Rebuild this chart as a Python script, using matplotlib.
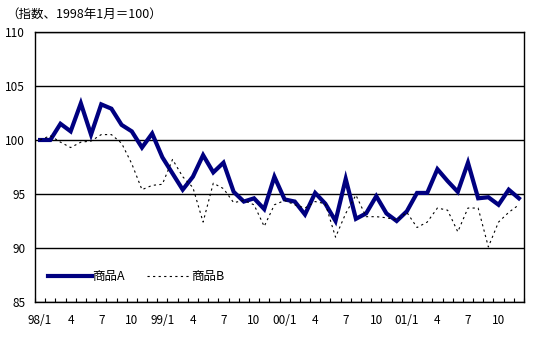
import matplotlib
matplotlib.use("Agg")
import matplotlib.pyplot as plt
from matplotlib.ticker import FixedLocator

plt.rcParams['font.family'] = ['Noto Sans CJK JP', 'DejaVu Sans']

months = [f"{y}/{m}" for y in ["98", "99", "00", "01"] for m in range(1, 13)]
tick_labels = ["98/1", "4", "7", "10", "99/1", "4", "7", "10",
               "00/1", "4", "7", "10", "01/1", "4", "7", "10"]

series_a = [100.0, 100.0, 101.5, 100.8, 103.4, 100.5, 103.3, 102.9, 101.4, 100.8, 99.3, 100.6,
            98.4, 96.9, 95.4, 96.6, 98.6, 97.0, 97.9, 95.2, 94.3, 94.6, 93.6, 96.6,
            94.5, 94.3, 93.1, 95.1, 94.1, 92.5, 96.4, 92.7, 93.2, 94.8, 93.2, 92.5,
            93.4, 95.1, 95.1, 97.3, 96.2, 95.2, 97.9, 94.6, 94.7, 94.0, 95.4, 94.6]
series_b = [100.0, 100.4, 99.8, 99.3, 99.8, 99.9, 100.5, 100.5, 99.7, 97.8, 95.4, 95.8,
            95.9, 98.2, 96.6, 95.6, 92.4, 96.0, 95.5, 94.2, 94.4, 94.0, 92.0, 94.0,
            94.4, 94.0, 93.7, 94.3, 94.1, 91.0, 93.2, 94.9, 92.9, 92.9, 92.8, 92.6,
            93.3, 91.9, 92.4, 93.7, 93.5, 91.5, 93.7, 93.7, 90.1, 92.4, 93.3, 94.0]

fig = plt.figure(figsize=(5.35, 3.39), dpi=100)
ax = fig.add_axes([35/535, 1 - 302/339, 489/535, 270/339])

x = list(range(len(months)))
ax.plot(x, series_a, color="#000080", lw=3.0, label="商品A", solid_joinstyle="miter")
ax.plot(x, series_b, color="black", lw=0.8, linestyle=(0, (2, 3)), label="商品B")

ax.set_xlim(-0.5, len(months) - 0.5)
ax.set_ylim(85, 110)
ax.set_yticks([85, 90, 95, 100, 105, 110])
ax.yaxis.grid(True, color="black", lw=1)
ax.set_axisbelow(True)
ax.tick_params(axis="y", length=0, pad=7, labelsize=8.5)

ax.set_xticks(x[::3])
ax.set_xticklabels(tick_labels)
ax.xaxis.set_minor_locator(FixedLocator([i - 0.5 for i in range(len(months) + 1)]))
ax.tick_params(axis="x", which="major", length=0, pad=9, labelsize=8.5)
ax.tick_params(axis="x", which="minor", direction="in", length=3, width=0.8)

for s in ax.spines.values():
    s.set_linewidth(1)
    s.set_color("black")

ax.legend(loc="center left", bbox_to_anchor=(0.027, 0.093), ncol=2, frameon=False,
          fontsize=9, handlelength=3.5, handletextpad=0.0, columnspacing=1.8,
          borderpad=0, borderaxespad=0)

fig.text(6/535, 1 - 14/339, "（指数、1998年1月＝100）", fontsize=9, va="center", ha="left")

fig.savefig("out.png", dpi=100)
